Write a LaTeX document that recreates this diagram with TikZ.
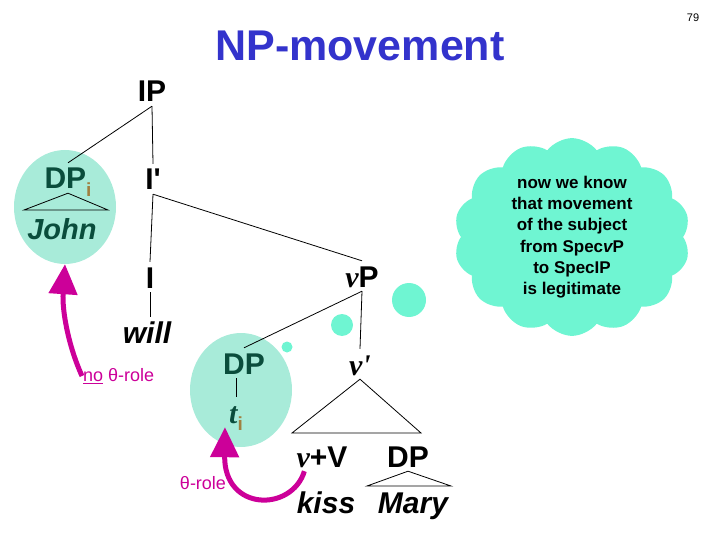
\documentclass[tikz,border=0pt]{standalone}
\usepackage{fontspec}
\setmainfont{Liberation Sans}
\newfontfamily\tms{Liberation Serif}
\usepackage{tikz}
\usetikzlibrary{shapes.geometric, shapes.symbols, arrows.meta}
\definecolor{titleblue}{HTML}{3333CC}
\definecolor{paleteal}{HTML}{A8EBD9}
\definecolor{aqua}{HTML}{6FF5D2}
\definecolor{dkgreen}{HTML}{0A4D3C}
\definecolor{movepink}{HTML}{CC0099}
\definecolor{idxbrown}{HTML}{A08040}
\newcommand{\fsz}[1]{\fontsize{#1}{#1}\selectfont}
\newcommand{\vit}{{\tms\itshape v}}
\newcommand{\idx}[1]{\raisebox{-#1}{\fsz{19}\color{idxbrown}i}}

\begin{document}
\begin{tikzpicture}[x=1pt, y=-1pt,
  lbl/.style={font=\fsz{30}\bfseries, inner sep=4pt, text height=22pt, text depth=0pt},
  dpc/.style={ellipse, fill=paleteal, minimum width=102pt, minimum height=114pt},
  bub/.style={circle, fill=aqua, inner sep=0pt},
  ln/.style={line width=0.8pt},
  mv/.style={line width=5pt, color=movepink, -{Triangle[length=30pt, width=28pt]}},
  role/.style={font=\fsz{18}, text=movepink, inner sep=1pt}
]
\useasboundingbox (0,0) rectangle (720,540);

% Title and page number
\node[font=\fsz{43}\bfseries, text=titleblue] (title) at (360,46) {NP-movement};
\node[font=\fsz{11}] (pgno) at (693,18) {79};

% Circles and bubbles
\node[dpc] (subj) at (65,207) {};
\node[dpc] (trace) at (241,390) {};
\node[bub, minimum size=11pt] (b1) at (287,347) {};
\node[bub, minimum size=22pt] (b2) at (342,325) {};
\node[bub, minimum size=34pt] (b3) at (409,300) {};
\node[cloud, cloud puffs=14, cloud puff arc=105, cloud ignores aspect, fill=aqua,
      minimum width=236pt, minimum height=196pt, align=center,
      font=\fontsize{17}{21.3}\selectfont\bfseries] (note) at (572,237)
  {now we know\\that movement\\of the subject\\from Spec{\itshape v}P\\to SpecIP\\is legitimate};

% Tree nodes
\node[lbl] (IP) at (152,91) {IP};
\node[lbl, text=dkgreen] (DPi) at (68,178) {DP\idx{8pt}};
\node[lbl, text=dkgreen, font=\fsz{29}\bfseries\itshape] (john) at (62,229) {John};
\node[lbl] (Ibar) at (153,179) {I\textquotesingle};
\node[lbl] (I) at (150,277) {I};
\node[lbl, font=\fsz{30}\bfseries\itshape] (will) at (147,332) {will};
\node[lbl] (vP) at (362,276) {\vit P};
\node[lbl, text=dkgreen] (DPt) at (244,363) {DP};
\node[lbl, text=dkgreen] (ti) at (236,412) {{\tms\itshape t}\idx{7pt}};
\node[lbl] (vbar) at (360,364) {{\tms\itshape v\textquotesingle}};
\node[lbl] (vV) at (322,456) {\vit+V};
\node[lbl] (DPo) at (408,456) {DP};
\node[lbl, font=\fsz{30}\bfseries\itshape] (kiss) at (326,502) {kiss};
\node[lbl, font=\fsz{30}\bfseries\itshape] (mary) at (413,502) {Mary};

% Roof corners
\coordinate (jl) at (24,210);
\coordinate (jr) at (108,210);
\coordinate (vl) at (292,433);
\coordinate (vr) at (421,433);
\coordinate (ml) at (367,486);
\coordinate (mr) at (451,486);

% Branches
\draw[ln] (IP.south) -- (DPi.north);
\draw[ln] (IP.south) -- (Ibar.north);
\draw[ln] (Ibar.south) -- (I.north);
\draw[ln] (Ibar.south) -- (vP.north);
\draw[ln] (I.south) -- (I.south |- will.north);
\draw[ln] (vP.south) -- (DPt.north);
\draw[ln] (vP.south) -- (vbar.north);
\draw[ln] (ti.north |- DPt.south) -- (ti.north);
\draw[ln] (DPi.south) -- (jl) -- (jr) -- cycle;
\draw[ln] (vbar.south) -- (vl) -- (vr) -- cycle;
\draw[ln] (DPo.south) -- (ml) -- (mr) -- cycle;

% Movement arrows
\node[role, anchor=west] (noth) at (82,376) {\underline{no} θ-role};
\node[role] (th) at (203,483) {θ-role};
\draw[mv] (noth.west) .. controls (68,345) and (62,310) .. (subj.south);
\draw[mv] ([xshift=12pt]vV.south west) .. controls (292,512) and (224,512) .. (ti.south west);
\end{tikzpicture}
\end{document}
